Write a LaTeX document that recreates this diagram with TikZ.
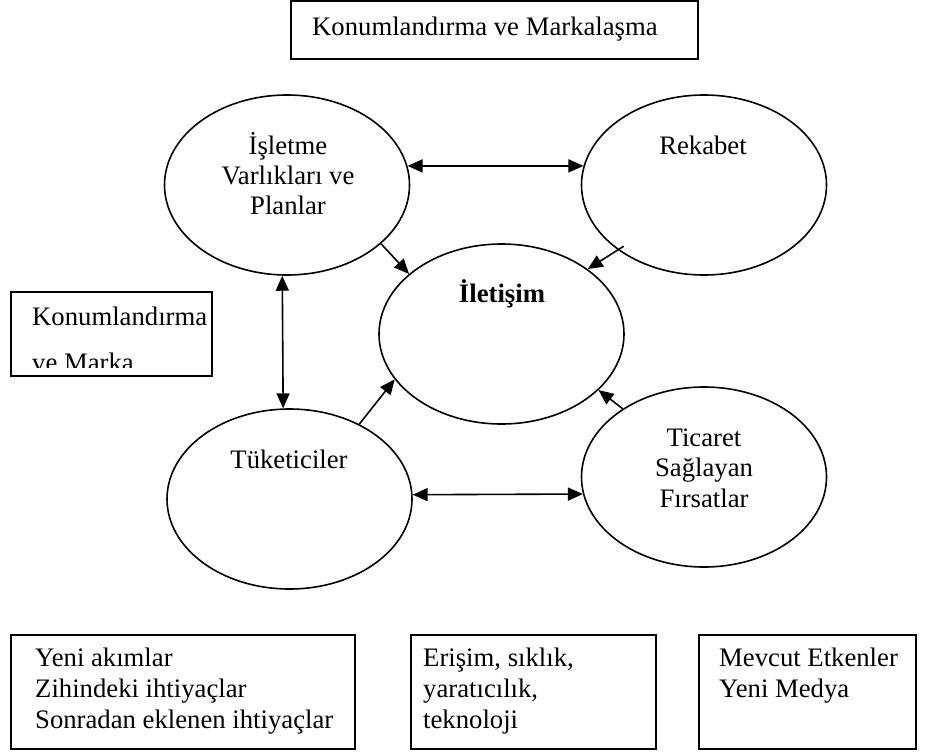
\documentclass[tikz,border=0pt]{standalone}
\usepackage{fontspec}
\setmainfont{Liberation Serif}
\usetikzlibrary{shapes.geometric,arrows.meta}
\begin{document}
\begin{tikzpicture}[x=1pt,y=-1pt,
  blob/.style={ellipse,draw,line width=1.6pt,minimum width=245pt,minimum height=180pt,inner sep=0pt},
  frame/.style={draw,rectangle,line width=1.6pt,inner sep=0pt},
  txt/.style={inner sep=0pt,font=\fontsize{26.7}{30}\selectfont},
  tip/.style={Triangle[length=15pt,width=13pt]},
  link/.style={line width=1.6pt,-{Triangle[length=15pt,width=13pt]}},
  twoway/.style={line width=1.6pt,{Triangle[length=15pt,width=13pt]}-{Triangle[length=15pt,width=13pt]}}]
\useasboundingbox (0,0) rectangle (925,753);

% top heading box
\node[frame,minimum width=407pt,minimum height=58pt] (brand) at (494.5,30) {};
\node[txt,anchor=base west] (brand-t) at (312,35) {Konumlandırma ve Markalaşma};

% the five ellipses
\node[blob] (ops)   at (287,185) {};
\node[blob] (rek)   at (704,185) {};
\node[blob] (ileti) at (501.5,334) {};
\node[blob] (tuk)   at (289.5,499) {};
\node[blob] (tic)   at (704,477) {};

% ellipse labels
\node[txt,anchor=base] (ops-1) at (288,154) {İşletme};
\node[txt,anchor=base] (ops-2) at (288,184) {Varlıkları ve};
\node[txt,anchor=base] (ops-3) at (288,214) {Planlar};
\node[txt,anchor=base] (rek-1) at (703,154) {Rekabet};
\node[txt,anchor=base] (ileti-1) at (502,302) {\bfseries İletişim};
\node[txt,anchor=base] (tuk-1) at (289,468) {Tüketiciler};
\node[txt,anchor=base] (tic-1) at (704,446) {Ticaret};
\node[txt,anchor=base] (tic-2) at (704,476) {Sağlayan};
\node[txt,anchor=base] (tic-3) at (704,507) {Fırsatlar};

% connectors into the centre
\draw[link] (ops.-32.4) -- (ileti.147.3);
\draw[link,shorten <=-7pt] (rek.-143.9) -- (ileti.37.5);
\draw[link] (tuk.47.6) -- (ileti.-157.9);
\draw[link] (tic.140) -- (ileti.-30.3);

% two-way connectors
\draw[twoway] (ops.9.5) -- (rek.171.5);
\draw[twoway] (ops.-93.2) -- (tuk.94.8);
\draw[twoway] (tuk.2.8) -- (tic.-172.4);

% side box with cut-off second line
\node[frame,minimum width=201pt,minimum height=84pt] (side) at (111.5,334) {};
\node[txt,anchor=base west] (side-1) at (32,325) {Konumlandırma};
\begin{scope}
  \clip (12,293) rectangle (211,367);
  \node[txt,anchor=base west] (side-2) at (32,371) {ve Marka};
\end{scope}

% bottom boxes
\node[frame,minimum width=344pt,minimum height=114pt] (trend) at (183,692) {};
\node[txt,anchor=base west] (trend-1) at (35,666) {Yeni akımlar};
\node[txt,anchor=base west] (trend-2) at (35,697) {Zihindeki ihtiyaçlar};
\node[txt,anchor=base west] (trend-3) at (35,728) {Sonradan eklenen ihtiyaçlar};

\node[frame,minimum width=245pt,minimum height=114pt] (reach) at (533.5,692) {};
\node[txt,anchor=base west] (reach-1) at (423,666) {Erişim, sıklık,};
\node[txt,anchor=base west] (reach-2) at (423,697) {yaratıcılık,};
\node[txt,anchor=base west] (reach-3) at (423,728) {teknoloji};

\node[frame,minimum width=217pt,minimum height=114pt] (media) at (807.5,692) {};
\node[txt,anchor=base west] (media-1) at (719,666) {Mevcut Etkenler};
\node[txt,anchor=base west] (media-2) at (719,697) {Yeni Medya};
\end{tikzpicture}
\end{document}
